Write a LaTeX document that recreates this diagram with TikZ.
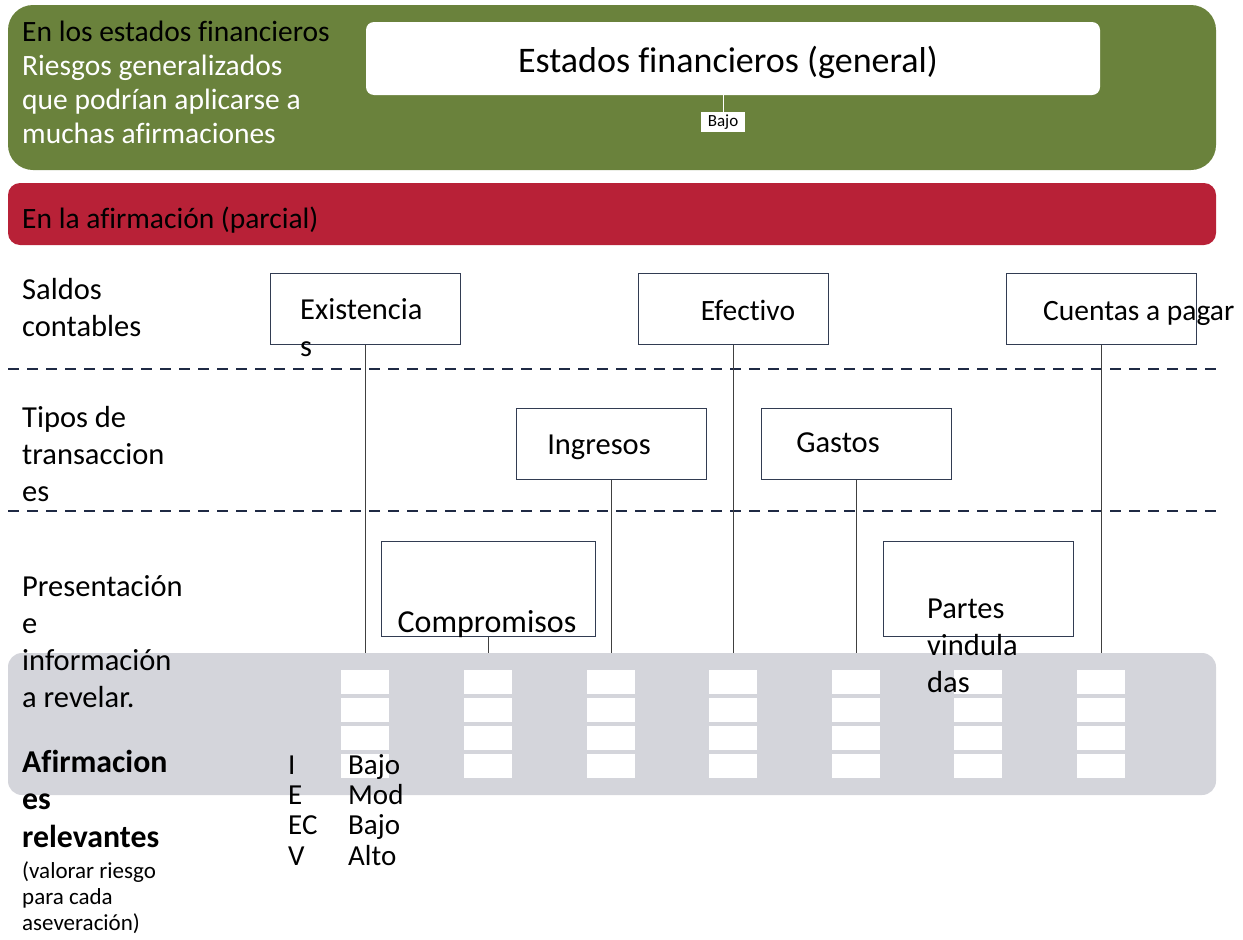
\documentclass[tikz,border=0pt]{standalone}
\usepackage{fontspec}
\setmainfont{Carlito}[Ligatures=NoCommon]
\usepackage{xcolor}
\usepackage{tikz}
\usetikzlibrary{positioning}

\definecolor{olivebar}{RGB}{106,130,60}
\definecolor{redbar}{RGB}{184,33,55}
\definecolor{greypanel}{RGB}{212,213,219}
\definecolor{navyline}{RGB}{31,42,68}
\definecolor{boxline}{RGB}{50,60,82}

\begin{document}
\begin{tikzpicture}[x=1pt, y=-1pt,
    body/.style={font=\fontsize{30.5}{36.8}\selectfont, inner sep=0pt, align=left},
    narrow/.style={font=\fontsize{29.5}{36.8}\selectfont},
    band/.style={inner sep=0pt, font=\fontsize{29.5}{34}\selectfont},
    acct/.style={draw=boxline, line width=1pt, minimum width=190pt, minimum height=71pt, inner sep=0pt},
    cell/.style={fill=white, minimum width=48pt, minimum height=24pt, inner sep=0pt},
    link/.style={draw=black!75, line width=1pt},
    level/.style={navyline, line width=2.8pt, dash pattern=on 11pt off 8pt}]
    \useasboundingbox (0,0) rectangle (1243,940);

    % bands
    \fill[olivebar, rounded corners=25pt] (8,5) rectangle (1216,170);
    \fill[redbar, rounded corners=12pt] (8,183) rectangle (1216,245);
    \draw[level] (8,369) -- (1216,369);
    \draw[level] (8,511) -- (1216,511);

    \node[fill=white, rounded corners=8pt, minimum width=734pt, minimum height=73pt, inner sep=0pt] (fsgen) at (733,58.5) {};
    \node[anchor=base, inner sep=0pt, font=\fontsize{36}{43}\selectfont] (fsgenT) at (728,72) {Estados financieros (general)};
    \node[fill=white, inner sep=0pt, minimum width=44pt, minimum height=20pt, font=\fontsize{17}{19}\selectfont] (fsrisk) at (723,122) {Bajo};
    \draw[white, line width=1pt] (fsrisk) -- (fsrisk |- fsgen.south);

    \node[band, anchor=base west] (fslead) at (22,41) {En los estados financieros};
    \node[band, anchor=base west, align=left, white] (fsnote) at (22,143)
        {Riesgos generalizados\\que podrían aplicarse a\\muchas afirmaciones};
    \node[band, anchor=base west] (aslead) at (22,228) {En la afirmación (parcial)};

    % account boxes
    \node[acct] (exist) at (365,308.5) {};
    \node[acct] (efect) at (733,308.5) {};
    \node[acct] (cuent) at (1101,308.5) {};
    \node[acct] (ingr) at (611,443.5) {};
    \node[acct] (gast) at (856,443.5) {};
    \node[acct, minimum width=214pt, minimum height=95pt] (compr) at (488,588.5) {};
    \node[acct, minimum height=95pt] (part) at (978,588.5) {};

    % assertion panel
    \fill[greypanel, rounded corners=14pt] (8,653) rectangle (1216,795);
    \coordinate (paneltop) at (0,653);
    \foreach \n in {exist, efect, cuent, ingr, gast, compr}
        \draw[link] (\n.south) -- (\n.south |- paneltop);
    \foreach \cx in {365,488,611,733,856,978,1101}
        \foreach \cy in {682,710,738,766}
            \node[cell] (c-\cx-\cy) at (\cx,\cy) {};

    % row labels
    \node[body, anchor=base west] (saldos) at (22,336) {Saldos\\contables};
    \node[body, anchor=base west] (tipos) at (22,501) {Tipos de\\transaccion\\es};
    \node[body, anchor=base west] (presen) at (22,707) {Presentación\\e\\información\\a revelar.};
    \node[anchor=base west, inner sep=0pt, align=left, font=\bfseries\fontsize{31.8}{37.5}\selectfont] (afirm) at (22,847)
        {Afirmacion\\es\\relevantes};
    \node[anchor=base west, inner sep=0pt, align=left, font=\fontsize{23}{26}\selectfont] (valor) at (22,930)
        {(valorar riesgo\\para cada\\aseveración)};

    % box texts
    \node[body, anchor=base west] (existT) at (300,356) {Existencia\\s};
    \node[body, narrow, anchor=base] (efectT) at (748,320) {Efectivo};
    \node[body, narrow, anchor=base west] (cuentT) at (1043,320) {Cuentas a pagar};
    \node[body, anchor=base] (ingrT) at (599,454) {Ingresos};
    \node[body, anchor=base] (gastT) at (838,452) {Gastos};
    \node[body, anchor=base, font=\fontsize{32}{36.8}\selectfont] (comprT) at (487,632) {Compromisos};
    \node[body, anchor=base west] (partT) at (927,692) {Partes\\vindula\\das};

    % example ratings
    \node[anchor=base west, inner sep=0pt, align=left, font=\fontsize{29}{30.3}\selectfont] (asrt) at (288,865) {I\\E\\EC\\V};
    \node[anchor=base west, inner sep=0pt, align=left, font=\fontsize{29}{30.3}\selectfont] (rate) at (348,865) {Bajo\\Mod\\Bajo\\Alto};
\end{tikzpicture}
\end{document}
